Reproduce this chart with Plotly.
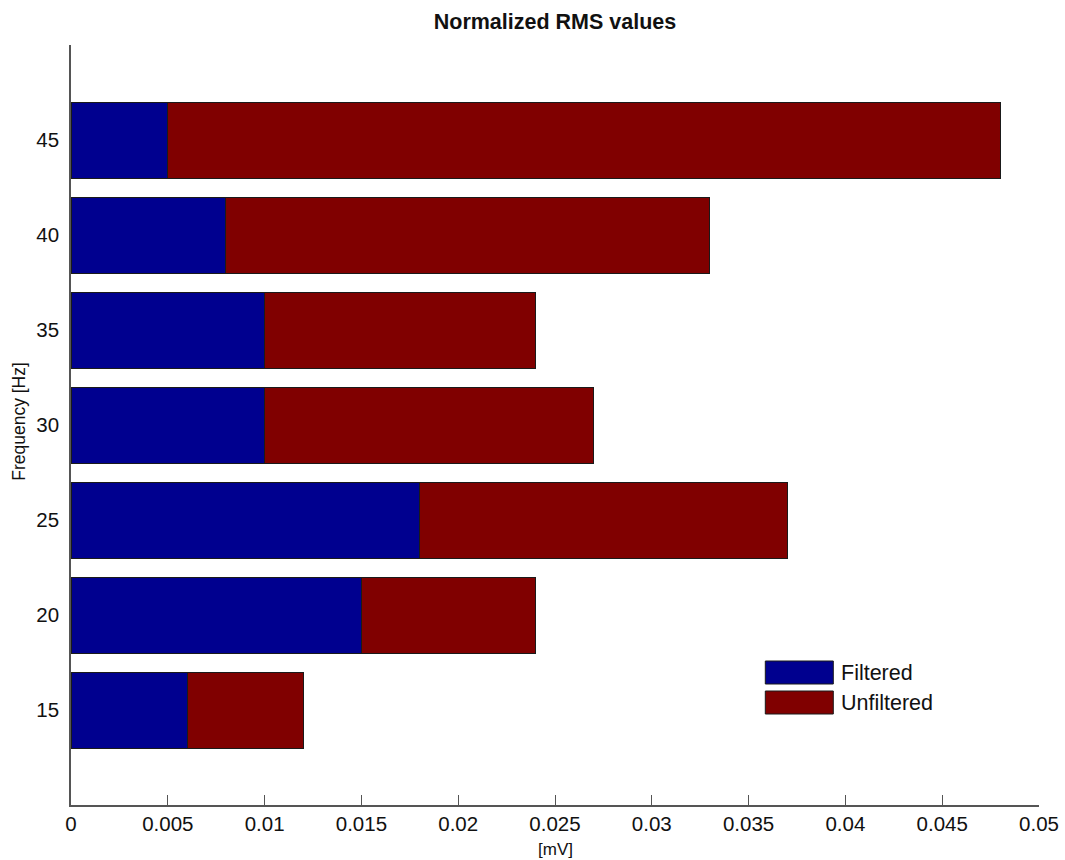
import plotly.graph_objects as go

# ---- data ----
frequencies = [15, 20, 25, 30, 35, 40, 45]
filtered = [0.006, 0.015, 0.018, 0.010, 0.010, 0.008, 0.005]
unfiltered = [0.006, 0.009, 0.019, 0.017, 0.014, 0.025, 0.043]  # stacked on top of filtered
x_tick_vals = [0, 0.005, 0.01, 0.015, 0.02, 0.025, 0.03, 0.035, 0.04, 0.045, 0.05]
x_tick_text = ["0", "0.005", "0.01", "0.015", "0.02", "0.025", "0.03", "0.035", "0.04", "0.045", "0.05"]
y_tick_vals = [15, 20, 25, 30, 35, 40, 45]
series_names = ["Filtered", "Unfiltered"]

BLUE = "#00008F"
RED = "#800000"
FONT = "Liberation Sans, Arial, sans-serif"

fig = go.Figure()
fig.add_trace(go.Bar(
    y=frequencies, x=filtered, orientation="h", name=series_names[0],
    width=4, marker=dict(color=BLUE, line=dict(color="#1a1a1a", width=1)),
    showlegend=False,
))
fig.add_trace(go.Bar(
    y=frequencies, x=unfiltered, orientation="h", name=series_names[1],
    width=4, marker=dict(color=RED, line=dict(color="#1a1a1a", width=1)),
    showlegend=False,
))

W, H = 1065, 860
L, R, T, B = 71, 26, 45, 55
ph = H - T - B

# target geometry measured in the reference (pixels)
REF_L, REF_R = 70.7, 1038.7

def px_x(px):
    return (px - REF_L) / (REF_R - REF_L)

def px_y(py):
    return (H - B - py) / ph

# custom MATLAB-style legend
legend_rows = [(661, 684, BLUE), (691, 714, RED)]
for (y0, y1, col), name in zip(legend_rows, series_names):
    fig.add_shape(type="rect", xref="paper", yref="paper",
                  x0=px_x(765), x1=px_x(833), y0=px_y(y1), y1=px_y(y0),
                  fillcolor=col, line=dict(color="#1a1a1a", width=1))
    fig.add_annotation(xref="paper", yref="paper", x=px_x(839), y=px_y((y0 + y1) / 2),
                       text=name, showarrow=False, xanchor="left", yanchor="middle",
                       font=dict(family=FONT, size=21.5, color="#111111"))

# axis titles
fig.add_annotation(xref="paper", yref="paper", x=0.5, y=px_y(850),
                   text="[mV]", showarrow=False, xanchor="center", yanchor="middle",
                   font=dict(family=FONT, size=17, color="#111111"))
fig.add_annotation(xref="paper", yref="paper", x=px_x(19), y=px_y(421.5),
                   text="Frequency [Hz]", showarrow=False, textangle=-90,
                   xanchor="center", yanchor="middle",
                   font=dict(family=FONT, size=17.5, color="#111111"))

fig.update_layout(
    barmode="stack",
    autosize=False,
    width=W, height=H,
    margin=dict(l=L, r=R, t=T, b=B, autoexpand=False),
    paper_bgcolor="white", plot_bgcolor="white",
    font=dict(family=FONT, size=20, color="#111111"),
    title=dict(text="<b>Normalized RMS values</b>", x=0.5, xref="paper",
               xanchor="center", y=1 - 21 / H, yref="container", yanchor="middle",
               font=dict(family=FONT, size=21.5, color="#111111")),
    xaxis=dict(range=[0, 0.05], tickvals=x_tick_vals, ticktext=x_tick_text,
               automargin=False,
               showline=True, linecolor="#555555", linewidth=1.5,
               ticks="inside", ticklen=10, tickcolor="#555555", tickwidth=1.2,
               showgrid=False, zeroline=False, ticklabelstandoff=0,
               tickfont=dict(family=FONT, size=20.5, color="#111111")),
    yaxis=dict(range=[10, 50], tickvals=y_tick_vals, automargin=False,
               showline=True, linecolor="#555555", linewidth=1.5,
               ticks="", showgrid=False, zeroline=False, ticklabelstandoff=6,
               tickfont=dict(family=FONT, size=20.5, color="#111111")),
)

fig.write_html("out.html", config={"displayModeBar": False, "responsive": False},
               post_script="document.body.style.margin='0';document.body.style.padding='0';document.body.style.overflow='hidden';")
